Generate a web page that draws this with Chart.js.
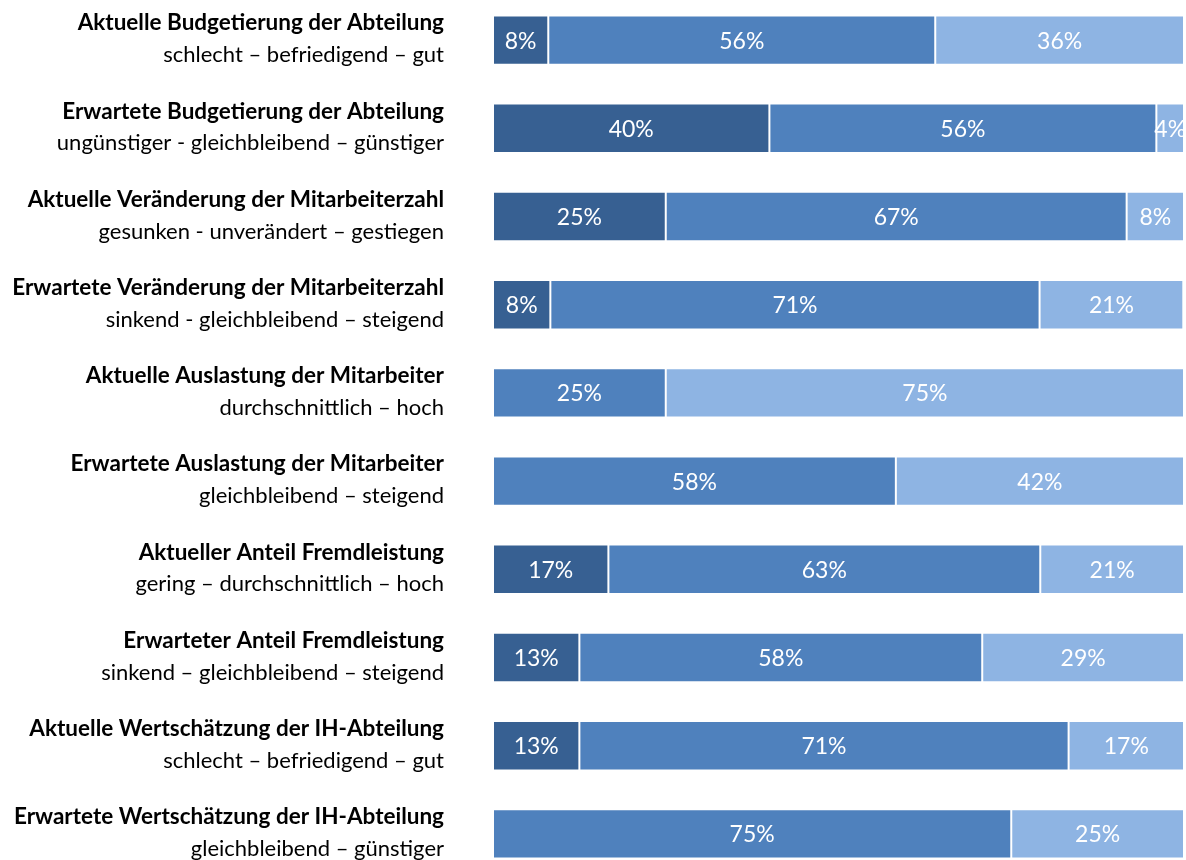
<!DOCTYPE html>
<html>
<head>
<meta charset="utf-8">
<script src="https://cdn.jsdelivr.net/npm/chart.js@4.4.0/dist/chart.umd.min.js"></script>
<style>
  html, body { margin: 0; padding: 0; background: #fff; overflow: hidden; }
  #wrap { position: absolute; left: 0; top: -4px; width: 1186px; height: 882px; }
</style>
</head>
<body>
<div id="wrap"><canvas id="myChart"></canvas></div>
<script>
var titles = [
  "Aktuelle Budgetierung der Abteilung",
  "Erwartete Budgetierung der Abteilung",
  "Aktuelle Veränderung der Mitarbeiterzahl",
  "Erwartete Veränderung der Mitarbeiterzahl",
  "Aktuelle Auslastung der Mitarbeiter",
  "Erwartete Auslastung der Mitarbeiter",
  "Aktueller Anteil Fremdleistung",
  "Erwarteter Anteil Fremdleistung",
  "Aktuelle Wertschätzung der IH-Abteilung",
  "Erwartete Wertschätzung der IH-Abteilung"
];
var scales = [
  "schlecht – befriedigend – gut",
  "ungünstiger - gleichbleibend – günstiger",
  "gesunken - unverändert – gestiegen",
  "sinkend - gleichbleibend – steigend",
  "durchschnittlich – hoch",
  "gleichbleibend – steigend",
  "gering – durchschnittlich – hoch",
  "sinkend – gleichbleibend – steigend",
  "schlecht – befriedigend – gut",
  "gleichbleibend – günstiger"
];
// share in % (low / middle / high answer)
var lowValues  = [8, 40, 25, 8.3, 0, 0, 16.7, 12.5, 12.5, 0];
var midValues  = [56, 56, 66.7, 70.8, 25, 58.3, 62.5, 58.3, 70.8, 75];
var highValues = [36, 4, 8.3, 20.8, 75, 41.7, 20.8, 29.2, 16.7, 25];

var rowLabels = {
  id: 'rowLabels',
  afterDraw: function(chart) {
    var ctx = chart.ctx;
    var y = chart.scales.y;
    ctx.save();
    ctx.textAlign = 'right';
    ctx.textBaseline = 'middle';
    ctx.fillStyle = '#000';
    for (var i = 0; i < titles.length; i++) {
      var py = y.getPixelForValue(i);
      ctx.font = 'bold 22.5px Lato';
      ctx.fillText(titles[i], 444, py - 17);
      ctx.font = '22px Lato';
      ctx.fillText(scales[i], 444, py + 15);
    }
    // percent labels inside the bars
    ctx.textAlign = 'center';
    ctx.fillStyle = '#fff';
    ctx.font = '23px Lato';
    chart.data.datasets.forEach(function(ds, di) {
      var meta = chart.getDatasetMeta(di);
      meta.data.forEach(function(bar, j) {
        var v = ds.data[j];
        if (!v) return;
        var cx = (bar.x + bar.base) / 2;
        ctx.fillText(Math.round(v) + '%', cx, bar.y + 1);
      });
    });
    ctx.restore();
  }
};

var myChart = new Chart(document.getElementById('myChart'), {
  type: 'bar',
  data: {
    labels: titles,
    datasets: [{
      label: 'niedrig',
      data: lowValues,
      backgroundColor: '#376092'
    },
    {
      label: 'mittel',
      data: midValues,
      backgroundColor: '#4f81bd'
    },
    {
      label: 'hoch',
      data: highValues,
      backgroundColor: '#8eb4e3'
    }]
  },
  options: {
    indexAxis: 'y',
    responsive: true,
    maintainAspectRatio: false,
    animation: false,
    layout: {
      padding: { left: 493, right: 2, top: 0, bottom: 0 }
    },
    datasets: {
      bar: {
        barPercentage: 0.56,
        categoryPercentage: 1,
        borderWidth: 1,
        borderColor: 'rgba(255,255,255,0.45)',
        borderSkipped: false
      }
    },
    plugins: {
      legend: { display: false },
      tooltip: { enabled: false }
    },
    scales: {
      x: {
        stacked: true,
        min: 0,
        max: 100,
        display: false
      },
      y: {
        stacked: true,
        display: false
      }
    }
  },
  plugins: [rowLabels]
});
</script>
</body>
</html>
